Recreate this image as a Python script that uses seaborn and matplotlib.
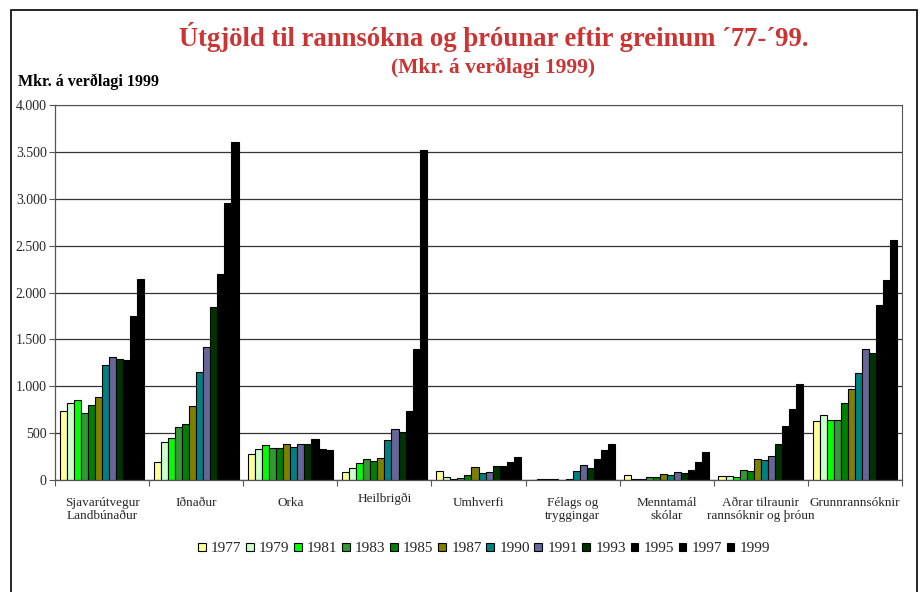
import numpy as np
import pandas as pd
import matplotlib
matplotlib.use("Agg")
import matplotlib.pyplot as plt
import matplotlib.patches as mpatches
from matplotlib.ticker import FuncFormatter, FixedLocator
import seaborn as sns

categories = [
    "Sjavarútvegur\nLandbúnaður", "Iðnaður", "Orka", "Heilbrigði", "Umhverfi",
    "Félags og\ntryggingar", "Menntamál\nskólar", "Aðrar tilraunir\nrannsóknir og þróun",
    "Grunnrannsóknir",
]
years = ["1977", "1979", "1981", "1983", "1985", "1987", "1990", "1991", "1993", "1995", "1997", "1999"]

sjavarutvegur = [736, 825, 853, 718, 804, 885, 1227, 1316, 1291, 1276, 1745, 2144]
idnadur = [192, 402, 452, 569, 601, 786, 1148, 1422, 1849, 2197, 2955, 3605]
orka = [277, 331, 370, 345, 341, 388, 356, 380, 388, 434, 327, 320]
heilbrigdi = [82, 132, 185, 220, 199, 231, 423, 544, 508, 732, 1401, 3520]
umhverfi = [92, 28, 14, 25, 57, 142, 75, 85, 153, 146, 196, 249]
felags = [3, 6, 12, 10, 5, 8, 100, 156, 132, 228, 324, 388]
menntamal = [50, 12, 12, 28, 28, 68, 57, 82, 78, 103, 188, 299]
adrar = [46, 46, 35, 107, 96, 228, 210, 252, 388, 572, 760, 1020]
grunnrannsoknir = [626, 693, 636, 644, 821, 971, 1145, 1401, 1355, 1867, 2137, 2557]

series = [sjavarutvegur, idnadur, orka, heilbrigdi, umhverfi, felags, menntamal, adrar, grunnrannsoknir]

colors = ["#FFFF99", "#CCFFCC", "#00FF00", "#339933", "#008000", "#808000",
          "#008080", "#666699", "#003300", "#000000", "#000000", "#000000"]

rows = []
for cat, vals in zip(categories, series):
    for yr, v in zip(years, vals):
        rows.append({"cat": cat, "year": yr, "value": v})
df = pd.DataFrame(rows)

sns.set_theme(style="white")
plt.rcParams["font.family"] = ["Liberation Serif", "DejaVu Serif"]

fig = plt.figure(figsize=(9.22, 5.92), dpi=100)
ax = fig.add_axes([55 / 922, 1 - 480 / 592, (902 - 55) / 922, (480 - 105) / 592])

sns.barplot(data=df, x="cat", y="value", hue="year", order=categories, hue_order=years,
            palette=colors, saturation=1, width=0.9, edgecolor="black", linewidth=0.8,
            errorbar=None, legend=True, ax=ax)

ax.set_ylim(0, 4000)
ax.set_xlim(-0.5, len(categories) - 0.5)
ax.set_yticks(np.arange(0, 4001, 500))
ax.yaxis.set_major_formatter(FuncFormatter(lambda v, p: f"{int(v):,}".replace(",", ".")))
ax.yaxis.grid(True, color="#333333", linewidth=0.9)
ax.set_axisbelow(True)
ax.set_xlabel("")
ax.set_ylabel("")

for s in ["top", "right"]:
    ax.spines[s].set_color("#555555")
    ax.spines[s].set_linewidth(0.8)
for s in ["left", "bottom"]:
    ax.spines[s].set_color("#555555")
    ax.spines[s].set_linewidth(0.9)

ax.tick_params(axis="y", which="major", direction="out", length=4, width=0.8,
               color="#555555", labelsize=10, pad=2, left=True)
ax.set_xticks(np.arange(len(categories)))
ax.set_xticklabels(categories, fontsize=9.5, linespacing=1.15, va="top")
ax.tick_params(axis="x", which="major", length=0, pad=12)
ax.xaxis.set_minor_locator(FixedLocator(np.arange(len(categories) + 1) - 0.5))
ax.tick_params(axis="x", which="minor", direction="out", length=4, width=0.8,
               color="#555555", bottom=True)
# small manual nudges like the reference
for lbl in ax.get_xticklabels():
    txt = lbl.get_text()
    if txt.startswith("Heilbrig"):
        lbl.set_y(0.012)
    if txt.startswith("Aðrar"):
        lbl.set_x(lbl.get_position()[0] - 0.02)
    if txt.startswith("Grunn"):
        lbl.set_x(lbl.get_position()[0] + 0.06)

handles, labels = ax.get_legend_handles_labels()
ax.get_legend().remove()
leg_handles = [mpatches.Patch(facecolor=c, edgecolor="black", linewidth=0.8) for c in colors]
fig.legend(leg_handles, years, loc="center", bbox_to_anchor=(484 / 922, 1 - 549 / 592),
           ncol=12, frameon=False, fontsize=11, handlelength=0.5, handleheight=0.5,
           handletextpad=0.35, columnspacing=0.3, borderaxespad=0)

fig.text(494 / 922, 1 - 37 / 592, "Útgjöld til rannsókna og þróunar eftir greinum ´77-´99.",
         ha="center", va="center", fontsize=19.2, fontweight="bold", color="#CC3333")
fig.text(493 / 922, 1 - 68 / 592, "(Mkr. á verðlagi 1999)",
         ha="center", va="center", fontsize=15.5, fontweight="bold", color="#CC3333")
fig.text(18 / 922, 1 - 82 / 592, "Mkr. á verðlagi 1999", ha="left", va="center",
         fontsize=11.5, fontweight="bold", color="black")

frame = mpatches.Rectangle((11 / 922, -0.05), (917 - 11) / 922, 1.05 - 10 / 592,
                           transform=fig.transFigure, fill=False, edgecolor="black",
                           linewidth=1.2)
fig.patches.append(frame)

fig.savefig("out.png", dpi=100, facecolor="white")
